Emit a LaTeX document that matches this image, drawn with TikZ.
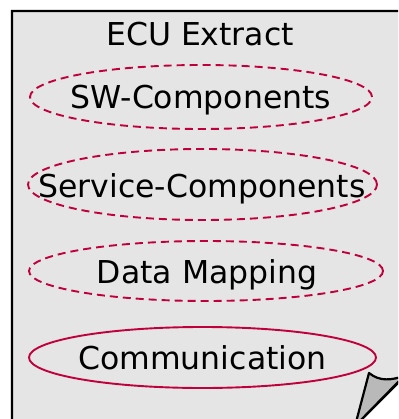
\documentclass[tikz,border=0pt]{standalone}
\usepackage{fontspec}
\setmainfont{DejaVu Sans}
\definecolor{pagegray}{RGB}{229,229,229}
\definecolor{ringred}{RGB}{192,0,60}
\begin{document}
\begin{tikzpicture}[x=1pt, y=-1pt,
	lbl/.style={inner sep=0pt, text height=22.6pt, text depth=0pt, font=\fontsize{31.5}{37}\selectfont},
	ring/.style={ringred, line width=1.9pt},
	dashring/.style={ring, dash pattern=on 8pt off 5pt}]
	\useasboundingbox (0, 0) rectangle (398, 419);
	\clip (0, 0) rectangle (398, 419);

	% the sheet with its bent corner
	\draw[line width=2.2pt, fill=pagegray] (12, 11) -- (404, 11) -- (404, 377) -- (355, 426) -- (12, 426) --cycle;
	\draw[line width=2.2pt, fill=gray!55, line join=round] (355, 426) -- (369, 373) .. controls (380, 382) and (392, 380) .. (404, 376) --cycle;

	\node[lbl] (title) at (200, 34) {ECU Extract};
	\node[lbl] (sw) at (201, 97) {SW-Components};
	\node[lbl] (service) at (202, 186.5) {Service-Components};
	\node[lbl] (mapping) at (207, 272) {Data Mapping};
	\node[lbl] (comm) at (202.5, 358) {Communication};

	\draw[dashring] (201, 97) ellipse [x radius=171pt, y radius=32pt];
	\draw[dashring] (202.5, 184.5) ellipse [x radius=174.5pt, y radius=35.5pt];
	\draw[dashring] (206, 271) ellipse [x radius=177pt, y radius=30pt];
	\draw[ring] (202.5, 357.5) ellipse [x radius=173.5pt, y radius=30.5pt];
\end{tikzpicture}
\end{document}
